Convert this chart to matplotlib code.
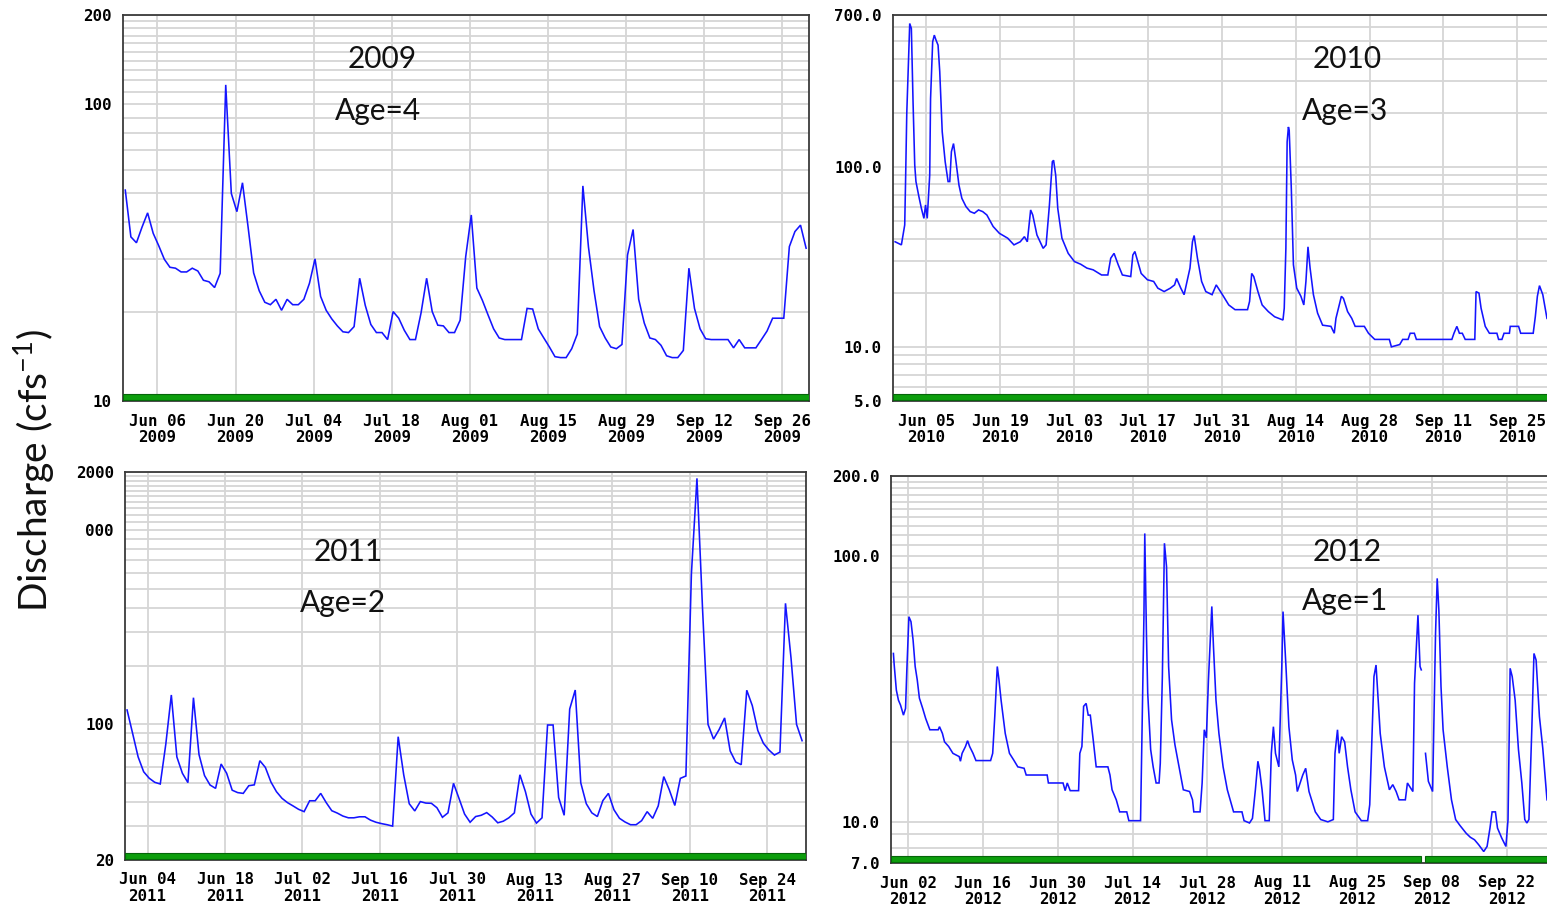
import numpy as np
import pandas as pd
import matplotlib
matplotlib.use("Agg")
import matplotlib.pyplot as plt
import matplotlib.dates as mdates
from matplotlib.patches import Rectangle
from matplotlib.ticker import FixedLocator

# ---------------- data ----------------
# 2009: daily mean discharge (cfs), one value per day
q2009_start = "2009-05-31 06:00"
q2009 = [51.3, 35.7, 34.1, 38.5, 43.0, 36.7, 33.3, 30.0, 28.2, 28.0,
         27.2, 27.2, 28.0, 27.4, 25.5, 25.2, 24.1, 26.9, 116.0, 50.0,
         43.4, 54.3, 38.6, 27.0, 23.5, 21.5, 21.1, 22.0, 20.2, 22.0,
         21.1, 21.1, 22.0, 24.9, 30.1, 22.5, 20.2, 18.9, 17.9, 17.1,
         17.0, 17.8, 25.9, 21.0, 18.1, 17.0, 17.0, 16.1, 20.0, 19.0,
         17.3, 16.1, 16.1, 19.8, 25.9, 20.0, 18.0, 17.9, 17.0, 17.0,
         18.7, 30.6, 42.3, 24.0, 21.8, 19.5, 17.5, 16.3, 16.1, 16.1,
         16.1, 16.1, 20.5, 20.4, 17.5, 16.3, 15.2, 14.1, 14.0, 14.0,
         15.0, 16.8, 53.0, 33.0, 23.5, 17.8, 16.3, 15.2, 15.0, 15.5,
         31.0, 37.8, 22.0, 18.3, 16.3, 16.1, 15.4, 14.2, 14.0, 14.0,
         14.8, 28.0, 20.5, 17.5, 16.2, 16.1, 16.1, 16.1, 16.1, 15.1,
         16.1, 15.1, 15.1, 15.1, 16.1, 17.2, 19.0, 19.0, 19.0, 33.1,
         37.2, 39.1, 32.7]

# 2011: daily mean discharge (cfs), one value per day
q2011_start = "2011-05-31 07:00"
q2011 = [118.7, 90, 68, 57, 52.8, 50.3, 49.3, 79, 141.8, 68,
         56, 50.1, 137.3, 70, 54.5, 48.7, 46.8, 62.5, 56, 45.8,
         44.5, 44.1, 48.3, 48.8, 65, 60, 50.5, 45, 41.6, 39.5,
         38, 36.5, 35.5, 40.4, 40.4, 44.1, 39.5, 35.9, 34.9, 33.7,
         33.0, 33.0, 33.4, 33.4, 32.1, 31.3, 30.8, 30.4, 29.9, 86.4,
         55, 39, 35.8, 40, 39.3, 39.2, 37.2, 33.2, 35, 49.7,
         41.5, 34.5, 31.3, 33.5, 34, 35.1, 33.3, 31.1, 31.7, 33,
         35, 55, 45, 34.5, 31, 33, 99.3, 99.3, 42, 34,
         120, 150.4, 50, 39, 35, 33.5, 40.5, 44.1, 36.3, 32.8,
         31.4, 30.4, 30.4, 31.9, 35.5, 32.8, 38, 53.8, 46, 38.2,
         52.7, 54.2, 600, 1855, 400, 100, 84, 94, 108, 73,
         64, 62, 150, 125, 93, 80, 73.8, 69.5, 72, 420.8,
         220, 100, 82.4]

# 2010: unit values, time in days after 1 June 2010
t2010 = [-1.93, -0.74, -0.11, 0.05, 0.28, 0.68, 0.84, 1.15, 1.47, 1.79,
         2.02, 2.58, 3.05, 3.53, 3.84, 4.16, 4.63, 4.79, 5.19, 5.50,
         5.82, 6.21, 6.53, 7.00, 7.56, 8.11, 8.43, 8.74, 9.14, 9.53,
         10.17, 10.72, 11.51, 12.30, 13.09, 13.88, 14.67, 15.46, 16.65, 17.83,
         19.41, 20.60, 21.79, 22.58, 23.13, 23.76, 24.16, 24.95, 26.13, 26.69,
         27.32, 27.87, 28.11, 28.51, 28.90, 29.69, 30.88, 32.06, 33.25, 34.43,
         35.62, 37.20, 38.39, 38.94, 39.57, 40.36, 41.15, 42.73, 43.13, 43.52,
         44.71, 45.90, 47.08, 47.87, 49.06, 50.24, 51.04, 51.43, 52.22, 52.85,
         53.41, 53.96, 54.43, 54.75, 55.38, 56.17, 56.96, 58.15, 58.94, 60.12,
         61.31, 62.50, 64.87, 65.26, 65.66, 66.05, 66.84, 67.64, 68.82, 70.01,
         71.59, 71.83, 72.14, 72.38, 72.62, 72.77, 73.17, 73.57, 74.20, 74.99,
         75.54, 75.94, 76.33, 76.73, 77.36, 78.15, 79.10, 80.68, 81.31, 81.63,
         82.66, 83.05, 83.84, 84.63, 85.27, 87.01, 87.80, 88.98, 91.75, 92.14,
         93.72, 94.28, 95.30, 95.70, 96.49, 96.88, 103.60, 104.00, 104.55, 105.03,
         105.58, 106.13, 107.95, 108.19, 108.74, 109.14, 109.93, 110.72, 112.14, 112.46,
         113.09, 113.49, 114.51, 114.67, 116.25, 116.65, 119.02, 119.42, 119.81, 120.21,
         120.84, 121.63]
q2010 = [38.4, 36.9, 47.6, 82.9, 198.6, 456, 628, 589, 230, 102.5,
         83, 68.4, 58.9, 51.8, 61.5, 51.8, 90.3, 240, 497, 541,
         508, 476, 339, 157, 107, 83, 83, 121.6, 135, 111.7,
         79.4, 67, 60.2, 56.5, 55.3, 57.7, 56.5, 54.1, 46.7, 42.8,
         40.2, 36.9, 38.4, 41, 38.4, 57.7, 54.1, 41.9, 35.3, 36.9,
         61.5, 107, 109, 90, 58.9, 40.2, 33.1, 29.8, 28.8, 27.4,
         26.8, 25.1, 25.1, 31.1, 33.1, 28.6, 25.1, 24.6, 32.4, 33.9,
         25.6, 23.6, 23.1, 21.2, 20.3, 21.2, 22.1, 24, 21.2, 19.5,
         23.1, 27.4, 38.4, 41.6, 31.1, 23.1, 20.3, 19.5, 22.1, 19.5,
         17.1, 16.1, 16.1, 17.9, 25.6, 24.6, 20.3, 17.1, 15.7, 14.7,
         14.1, 16.4, 35.3, 138, 167, 160, 76, 28.6, 21.2, 19.1,
         17.1, 23.1, 36, 27.4, 19.5, 15.4, 13.2, 13.0, 11.9, 14.4,
         19.1, 18.6, 15.7, 14.4, 13.0, 13.0, 11.9, 11.0, 11.0, 10.0,
         10.3, 11.0, 11.0, 11.9, 11.9, 11.0, 11.0, 11.9, 13.0, 11.9,
         11.9, 11.0, 11.0, 20.3, 19.9, 16.4, 13.0, 11.9, 11.9, 11.0,
         11.0, 11.9, 11.9, 13.0, 13.0, 11.9, 11.9, 14.7, 19.1, 21.9,
         19.5, 14.4]

# 2012: unit values, time in days after 1 June 2012 (NaN = missing record)
t2012 = [-1.74, -1.59, -1.19, -0.80, -0.41, 0.14, 0.53, 0.76, 1.16, 1.55,
         1.94, 2.33, 2.72, 3.12, 3.74, 4.29, 5.08, 6.64, 6.88, 7.43,
         7.82, 8.60, 9.39, 10.56, 10.80, 11.11, 11.74, 12.13, 12.52, 13.15,
         13.70, 16.44, 16.83, 17.22, 17.69, 18.01, 18.40, 18.79, 19.18, 19.97,
         20.75, 21.53, 22.71, 23.10, 27.02, 27.25, 29.99, 30.39, 30.78, 31.33,
         32.90, 33.13, 33.52, 33.84, 34.31, 34.70, 35.09, 35.64, 36.19, 38.38,
         38.77, 39.16, 39.95, 40.58, 41.91, 42.30, 44.49, 44.81, 45.12, 45.28,
         45.59, 45.83, 46.38, 46.85, 47.40, 47.95, 48.18, 48.57, 48.96, 49.35,
         49.74, 50.29, 50.92, 51.70, 52.49, 53.66, 54.21, 54.45, 55.62, 56.01,
         56.41, 56.80, 57.19, 57.58, 57.82, 58.13, 58.60, 59.15, 59.93, 60.72,
         61.89, 63.46, 63.85, 64.87, 65.42, 65.97, 66.44, 66.75, 67.22, 67.77,
         68.56, 68.95, 69.34, 69.73, 70.36, 70.91, 71.14, 71.69, 72.24, 72.87,
         73.49, 73.81, 74.83, 75.38, 76.00, 77.18, 78.19, 79.53, 80.55, 80.86,
         81.33, 81.64, 82.11, 82.66, 83.21, 83.83, 84.62, 85.79, 86.97, 87.36,
         88.15, 88.54, 88.93, 89.32, 90.10, 91.04, 91.67, 92.30, 92.85, 94.02,
         94.41, 95.43, 95.74, 96.38, 96.77, 97.00, 97.40, 97.79, 98.33, 99.12,
         99.36, 99.67, 99.98, 100.29, 100.69, 101.08, 101.86, 102.65, 103.43, 104.22,
         105.39, 106.17, 106.96, 107.74, 108.68, 109.31, 109.85, 110.25, 110.87, 111.26,
         112.05, 112.83, 113.23, 113.62, 114.01, 114.56, 115.18, 115.81, 116.36, 116.75,
         117.14, 117.69, 118.08, 118.48, 119.10, 119.73, 120.52]
q2012 = [43.0, 38.9, 31.3, 28.7, 27.5, 25.2, 26.7, 36.7, 59.1, 56.6,
         48.3, 38.4, 34.2, 29.2, 26.7, 24.5, 22.2, 22.2, 22.8, 21.5,
         20.0, 19.2, 18.1, 17.6, 16.9, 18.1, 19.2, 20.2, 19.2, 18.1,
         17.0, 17.0, 18.1, 24.9, 38.4, 34.2, 28.7, 24.9, 21.5, 18.1,
         17.1, 16.1, 15.9, 15.0, 15.0, 14.0, 14.0, 13.1, 14.0, 13.1,
         13.1, 18.1, 19.2, 27.2, 27.9, 25.2, 25.2, 20.3, 16.1, 16.1,
         15.0, 13.2, 12.1, 10.9, 10.9, 10.1, 10.1, 24.9, 59.1, 121.6,
         51.2, 30.5, 18.7, 16.1, 14.0, 14.0, 16.6, 35.2, 111.7, 91.2,
         38.4, 24.2, 19.5, 16.1, 13.2, 13.0, 12.1, 10.9, 10.9, 14.0,
         22.2, 20.7, 34.2, 51.2, 64.6, 45.6, 28.7, 21.5, 16.1, 13.2,
         10.9, 10.9, 10.1, 9.9, 10.3, 13.2, 16.9, 15.7, 13.2, 10.1,
         10.1, 18.1, 22.8, 18.1, 16.1, 38.4, 61.8, 38.4, 22.8, 17.1,
         15.0, 13.0, 15.0, 15.9, 13.0, 10.9, 10.2, 10.0, 10.2, 18.1,
         22.2, 18.1, 20.9, 20.0, 16.1, 13.2, 10.9, 10.1, 10.1, 11.6,
         35.2, 38.9, 28.7, 21.5, 16.1, 13.2, 13.8, 13.0, 12.1, 12.1,
         14.0, 13.0, 33.2, 59.9, 38.4, 37.3, np.nan, 18.1, 14.2, 13.0,
         24.2, 51.2, 82.4, 62.7, 32.3, 22.2, 16.1, 12.1, 10.2, 9.7,
         9.06, 8.75, 8.56, 8.20, 7.73, 8.08, 9.47, 10.9, 10.9, 9.47,
         8.69, 8.08, 10.2, 37.8, 35.2, 28.7, 18.7, 14.0, 10.2, 9.9,
         10.2, 22.8, 43.0, 40.6, 24.9, 18.9, 12.1]

years = [2009, 2010, 2011, 2012]
ages = [4, 3, 2, 1]
first_tick = {2009: "2009-06-06", 2010: "2010-06-05",
              2011: "2011-06-04", 2012: "2012-06-02"}
ytick_values = {2009: [10, 100, 200], 2010: [5, 10, 100, 700],
                2011: [20, 100, 1000, 2000], 2012: [7, 10, 100, 200]}
ytick_labels = {2009: ["10", "100", "200"],
                2010: ["5.0", "10.0", "100.0", "700.0"],
                2011: ["20", "100", "000", "2000"],
                2012: ["7.0", "10.0", "100.0", "200.0"]}

# ---------------- layout ----------------
W, H = 1547, 909
# axes box in pixels: left, top, right, bottom ; x range in days after 1 June
boxes = {2009: (123, 14.6, 809, 401), 2010: (893, 15, 1560, 401),
         2011: (125, 472, 806, 860), 2012: (891, 476, 1560, 863)}
xdays = {2009: (-1.16, 121.77), 2010: (-2.33, 124.1),
         2011: (-1.08, 122.0), 2012: (-2.19, 122.95)}
label_pos = {2009: (382, 59, 378, 111), 2010: (1347, 59, 1345, 111),
             2011: (348, 552, 343, 603), 2012: (1347, 552, 1345, 601)}

LINE = "#1414ff"
GRID = "#d6d6d6"
SPINE = "#3a3a3a"
BAR = "#0d9e0d"
BAR_EDGE = "#06650a"
TICKFONT = dict(family="DejaVu Sans Mono", weight="bold", size=11.3)
ANNOT = dict(family=["Lato", "DejaVu Sans"], size=21.5, color="#111111")


def grid_levels(lo, hi):
    """Log grid levels: 2..9 per decade, tenths when the top decade stops at 2x."""
    out = []
    n0, n1 = int(np.floor(np.log10(lo))), int(np.floor(np.log10(hi)))
    for n in range(n0, n1 + 1):
        b = 10.0 ** n
        step = b / 10 if hi <= 2 * b + 1e-9 else b
        for v in np.arange(b, 10 * b - step / 2, step):
            if lo * 1.0001 < v < hi * 0.9999:
                out.append(v)
    return out


def series(year):
    base = pd.Timestamp(f"{year}-06-01")
    if year == 2009:
        return pd.date_range(q2009_start, periods=len(q2009), freq="D"), np.array(q2009)
    if year == 2011:
        return pd.date_range(q2011_start, periods=len(q2011), freq="D"), np.array(q2011)
    t = t2010 if year == 2010 else t2012
    q = q2010 if year == 2010 else q2012
    return base + pd.to_timedelta(np.array(t), unit="D"), np.array(q, dtype=float)


fig = plt.figure(figsize=(W / 100, H / 100), dpi=100)
fig.patch.set_facecolor("white")

for year, age in zip(years, ages):
    l, t, r, b = boxes[year]
    ax = fig.add_axes([l / W, 1 - b / H, (r - l) / W, (b - t) / H])
    base = pd.Timestamp(f"{year}-06-01")
    x0 = base + pd.Timedelta(days=xdays[year][0])
    x1 = base + pd.Timedelta(days=xdays[year][1])

    dates, q = series(year)
    ax.plot(dates, q, color=LINE, lw=1.15, zorder=3, solid_joinstyle="miter")

    vals = ytick_values[year]
    ax.set_yscale("log")
    ax.set_ylim(vals[0], vals[-1])
    ax.yaxis.set_major_locator(FixedLocator(vals))
    ax.set_yticklabels(ytick_labels[year], fontdict=TICKFONT)
    ax.yaxis.set_minor_locator(FixedLocator(grid_levels(vals[0], vals[-1])))
    ax.yaxis.set_minor_formatter(plt.NullFormatter())

    ticks = pd.date_range(first_tick[year], periods=9, freq="14D")
    ax.set_xlim(x0, x1)
    ax.set_xticks(ticks)
    ax.set_xticklabels([d.strftime("%b %d\n%Y") for d in ticks],
                       fontdict=TICKFONT, linespacing=1.12)

    ax.tick_params(axis="both", which="both", length=0)
    ax.tick_params(axis="x", pad=9)
    ax.tick_params(axis="y", pad=8)
    ax.grid(True, which="both", axis="y", color=GRID, lw=1.3)
    ax.grid(True, which="major", axis="x", color=GRID, lw=1.3)
    ax.set_axisbelow(True)
    for s in ax.spines.values():
        s.set_color(SPINE)
        s.set_linewidth(1.3)

    # approval-status bar along the bottom of the plot
    bar_h = 6.0 / (b - t)
    trans = ax.get_xaxis_transform()
    xnum = mdates.date2num(dates)
    missing = np.isnan(q)
    pieces = [(mdates.date2num(x0), mdates.date2num(x1))]
    if missing.any():
        i = int(np.argmax(missing))
        pieces = [(mdates.date2num(x0), xnum[i - 1]), (xnum[i + 1], mdates.date2num(x1))]
    for a0, a1 in pieces:
        ax.add_patch(Rectangle((a0, 0.002), a1 - a0, bar_h, transform=trans,
                               facecolor=BAR, edgecolor=BAR_EDGE, lw=0.8,
                               zorder=4, clip_on=True))

    yx, yy, ax_, ay = label_pos[year]
    fig.text(yx / W, 1 - yy / H, str(year), ha="center", va="center", **ANNOT)
    fig.text(ax_ / W, 1 - ay / H, f"Age={age}", ha="center", va="center", **ANNOT)

fig.text(35 / W, 1 - 470 / H, r"Discharge (cfs$^{\mathregular{-1}}$)",
         rotation=90, ha="center", va="center",
         family=["Lato", "DejaVu Sans"], size=28, color="#111111")

fig.savefig("out.png", dpi=100, facecolor="white")
